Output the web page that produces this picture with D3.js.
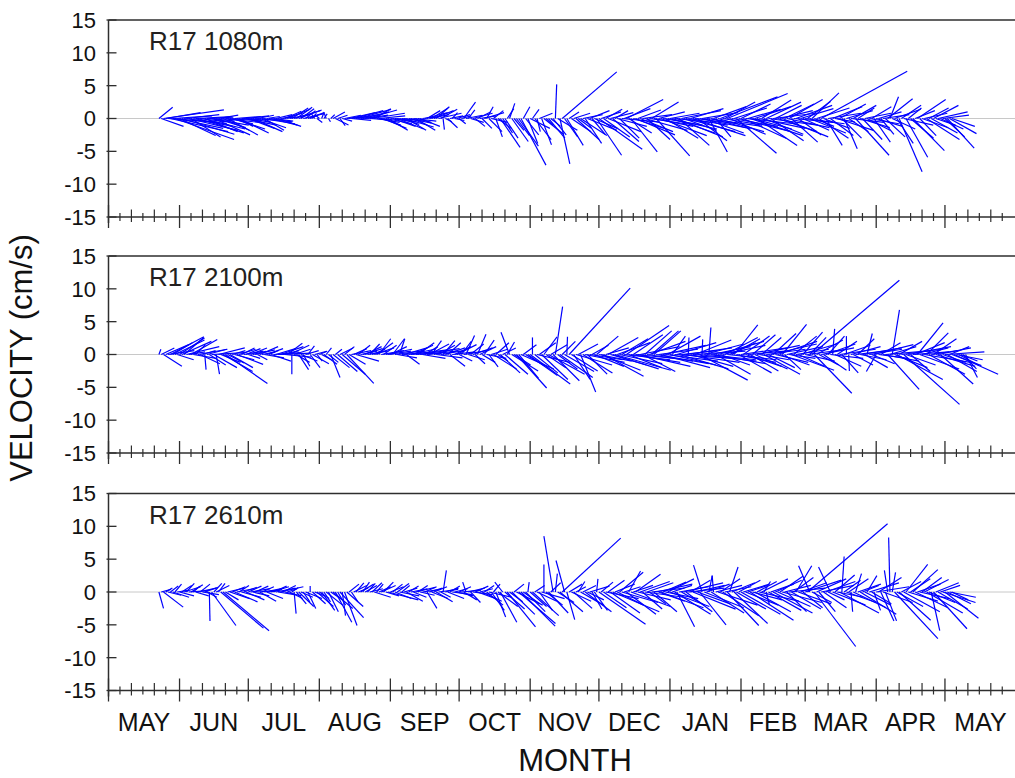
<!DOCTYPE html>
<html>
<head>
<meta charset="utf-8">
<script src="https://cdn.jsdelivr.net/npm/d3@7"></script>
<style>
	body { margin: 0; background: #ffffff; }
	#outer { width: 1015px; height: 778px; }
</style>
</head>
<body>
<div id="outer"></div>
<script>

////////// Data //////////
// daily current vectors (cm/s), first value = 23 May, one value per day
const startDay = Date.UTC(2010, 4, 23);
const panelNames = ['R17 1080m', 'R17 2100m', 'R17 2610m'];
const monthLabels = ['MAY', 'JUN', 'JUL', 'AUG', 'SEP', 'OCT', 'NOV', 'DEC', 'JAN', 'FEB', 'MAR', 'APR', 'MAY'];
const yTickValues = [-15, -10, -5, 0, 5, 10, 15];

const u1080 = [
	2.1,3.4,9.2,5.3,7.5,8.8,6.0,9.0,7.0,5.5, 8.0,6.5,5.0,7.5,4.5,6.0,5.5,7.0,4.0,6.5,
	5.0,4.0,6.0,3.5,5.5,4.5,3.0,6.0,4.0,5.0, 4.6,3.5,5.0,4.0,2.5,4.5,3.0,5.0,3.5,4.0,
	3.0,4.5,3.5,2.5,4.0,5.0,3.0,2.0,3.5,4.0, 3.0,2.5,3.5,2.0,3.0,2.5,3.5,3.0,2.5,4.0,
	2.4,3.5,2.0,3.0,1.5,2.5,1.2,0.6,-0.5,0.8, -0.7,0.4,0.5,-0.3,0.3,0.6,1.8,2.0,1.5,0.8,
	1.5,2.5,3.0,4.0,3.0,4.5,3.5,5.0,2.5,4.0, 3.5,4.5,3.0,5.0,2.5,3.5,4.0,3.0,3.5,4.0,
	3.0,4.0,3.5,2.5,4.0,3.0,3.5,4.5,3.0,3.5, 2.5,3.5,3.0,2.0,3.0,2.5,3.5,2.0,3.0,2.5,
	3.0,2.0,3.5,2.5,0.2,1.0,1.5,2.0,0.8,1.5, 2.0,1.0,1.5,1.8,2.5,1.0,2.0,3.0,1.5,2.0,
	2.5,1.5,3.0,1.0,2.0,2.5,1.5,1.0,2.0,3.0, 1.5,2.0,1.0,0.8,2.5,1.5,2.0,3.0,3.8,1.0,
	2.0,1.5,3.0,1.0,2.5,0.5,2.0,1.5,3.0,1.0, 2.5,1.5,2.0,0.2,3.0,1.5,8.3,2.0,2.5,1.5,
	3.0,2.5,3.5,2.0,4.0,3.0,2.5,4.5,3.0,2.0, 3.5,3.8,6.6,3.0,4.0,2.5,5.0,3.5,4.0,2.0,
	4.5,3.0,5.5,4.0,5.6,3.5,4.0,5.0,6.0,3.5, 5.0,4.5,6.5,3.5,5.5,4.1,6.0,5.1,4.0,7.0,
	6.0,5.0,7.5,4.5,6.5,5.5,7.0,4.6,6.0,5.0, 7.5,6.0,5.0,8.0,6.5,4.5,7.0,5.5,6.0,8.5,
	2.8,6.0,5.0,2.3,7.0,8.7,6.0,4.6,9.2,5.5, 7.0,5.0,6.1,8.0,4.5,6.5,7.5,5.0,8.0,6.0,
	5.5,6.1,7.0,4.5,6.0,5.3,7.5,5.0,6.5,4.0, 6.0,5.0,7.0,4.5,6.5,5.1,4.0,6.0,5.5,3.5,
	5.0,4.0,6.0,3.5,5.5,4.1,3.0,5.0,4.5,13.1, 4.0,2.5,5.0,3.5,4.5,3.0,5.5,4.0,3.0,2.0,
	4.0,3.0,5.0,3.5,5.1,2.5,4.5,3.0,4.0,3.5, 4.5,3.0,2.5,4.0,3.5,2.0,4.0,3.0,3.8,1.3,
	3.5,4.0,2.5,3.5,3.0,4.5,3.3,2.0,3.5,4.8, 3.0,4.3,2.5,4.0,3.5,5.0,3.0,4.0,3.8,3.0,
	4.5,3.5,4.0,3.0,4.1,4.1,3.5
];
const v1080 = [
	1.7,-1.2,1.3,0.9,-0.6,-2.0,0.4,-3.2,-1.5,-2.6, -2.4,-0.8,0.6,-1.8,-2.8,-1.2,0.3,-2.2,-0.5,-1.6,
	-2.0,0.2,-1.0,-0.4,-2.5,-1.4,0.5,-0.6,-1.8,-0.3, -2.5,-0.8,-1.6,0.3,-1.2,-2.2,-0.2,-1.0,0.4,-1.5,
	-0.6,-2.0,-0.3,0.5,-1.4,-0.8,-1.8,0.3,-0.5,-1.0, -0.4,0.6,-1.2,0.2,0.8,1.1,1.4,0.6,1.6,1.2,
	1.7,1.3,1.5,0.7,1.2,0.9,0.5,0.8,0.7,-0.6, 0.6,1.0,0.7,0.8,-0.5,0.6,1.0,-1.0,0.5,-1.1,
	-0.4,0.5,0.3,0.9,-0.3,1.2,0.6,1.4,0.2,1.0, 0.5,1.3,-0.2,0.8,1.5,-0.6,0.4,-1.0,-1.5,-0.8,
	-1.8,-0.5,-1.2,-0.3,-1.6,-0.9,-0.4,-1.3,-1.8,-0.7, -1.0,-0.4,-1.8,-0.6,-1.2,0.3,0.9,1.2,0.6,1.6,
	1.2,1.8,0.8,1.4,-1.7,-0.5,-1.4,0.4,0.9,-0.3, 0.6,-0.8,0.4,2.5,0.5,1.3,-0.6,0.8,-1.2,1.0,
	0.4,-1.5,0.9,1.8,-2.0,-0.6,1.2,-2.8,-1.5,-4.4, -2.2,-3.0,1.5,2.3,-3.5,-1.8,-2.6,-4.2,-7.1,1.8,
	-2.5,-3.8,-1.5,1.4,-3.2,-2.0,0.8,-4.0,-2.4,-1.0, -3.0,-1.2,-2.5,5.2,-1.8,-6.9,7.1,-2.8,-4.1,1.0,
	-2.0,0.8,-3.2,-1.5,-2.6,0.6,-3.8,-1.8,1.2,-2.4, -1.5,-5.6,-4.7,1.0,-2.8,1.4,-2.0,0.9,-3.5,1.2,
	-1.2,-3.0,-0.5,1.5,2.9,-2.2,-5.1,-1.6,-2.5,1.3, -2.0,0.6,-1.8,-3.2,-0.8,2.5,-1.2,-5.7,1.0,-2.6,
	-1.0,-3.0,-1.6,0.8,-2.2,-0.6,-2.8,-4.1,1.2,-1.8, -2.0,-1.0,1.5,-2.6,-0.8,-3.4,-1.4,0.9,-2.2,-1.2,
	-5.1,-1.6,1.8,-2.8,-2.0,3.3,-1.0,2.5,3.8,-2.4, -1.2,1.6,-5.3,-2.0,2.2,-3.0,-0.8,1.4,-2.6,-1.6,
	1.8,-4.1,-1.5,2.8,-2.4,2.5,-1.0,-3.4,0.8,2.0, -2.0,1.2,-2.8,2.2,-1.4,2.9,-3.6,-0.6,2.0,-2.5,
	1.5,-1.8,-0.8,2.6,-2.2,3.9,-1.2,1.6,-3.0,7.2, -1.5,-4.1,0.8,-2.6,1.8,-0.5,-1.8,2.2,-3.0,-4.6,
	1.2,-2.0,-0.6,2.0,-5.6,1.6,-1.4,-3.2,0.8,-1.8, -0.8,1.8,-3.6,-1.2,1.0,-2.4,0.6,-2.8,3.0,3.3,
	-1.6,1.4,-3.8,-8.1,2.0,-1.0,-5.9,1.6,-3.0,-4.9, 1.2,2.9,-2.6,-1.4,0.8,-3.2,1.6,-2.2,2.0,-1.0,
	1.0,-1.6,0.5,-2.8,-4.5,-2.3,-1.2
];

const u2100 = [
	0.3,2.0,2.8,3.5,4.0,5.1,3.0,4.5,2.5,3.8, 4.5,3.0,5.0,2.5,4.0,3.5,1.5,4.5,3.0,2.0,
	0.2,3.0,2.5,5.0,3.5,0.5,4.0,3.0,4.5,6.4, 2.5,3.5,2.0,3.0,4.0,2.5,2.0,3.0,2.2,1.8,
	2.5,2.0,3.0,1.5,2.8,2.0,3.0,2.5,1.5,3.0, 4.0,3.0,5.0,3.5,2.5,4.0,2.3,3.0,0.0,2.5,
	2.0,1.5,2.5,1.0,2.0,1.0,1.5,2.5,1.8,0.8, 1.2,1.5,2.0,0.8,1.5,1.4,2.5,1.0,3.0,2.0,
	3.5,1.5,4.1,2.5,3.0,2.0,3.5,1.8,2.5,3.0, 2.5,3.0,1.5,2.0,3.0,2.5,1.8,3.5,2.0,4.0,
	3.5,2.5,1.8,4.5,3.0,0.8,5.0,3.5,2.0,4.0, 5.5,3.0,4.0,2.5,6.0,3.5,2.0,4.5,3.0,1.5,
	3.0,4.0,2.5,3.5,1.8,3.0,2.0,2.3,3.5,2.5, 3.0,2.0,1.5,3.5,1.3,2.5,2.0,3.0,1.5,1.3,
	2.5,2.0,1.5,3.0,1.4,2.5,3.5,2.0,1.5,3.0, 2.0,3.5,1.1,-1.3,4.0,2.5,4.6,3.0,5.0,2.0,
	3.0,4.5,6.1,0.0,3.5,5.0,2.5,4.0,2.0,3.0, 5.5,2.5,4.0,1.1,3.0,5.0,2.0,4.5,0.1,9.3,
	4.0,2.5,5.5,3.0,2.3,4.5,6.0,3.0,5.0,2.5, 4.5,3.3,5.0,6.0,6.1,3.5,4.6,5.5,7.0,8.5,
	5.0,6.5,4.0,7.0,6.5,5.0,7.5,4.5,6.0,8.0, 6.0,5.0,4.1,7.0,5.5,4.1,4.1,8.0,6.0,7.5,
	6.5,8.0,5.0,7.0,2.0,9.0,6.0,7.5,5.5,8.5, 7.0,0.1,6.5,8.0,5.5,9.0,7.3,0.1,6.0,7.5,
	0.3,6.0,8.0,5.3,7.0,4.5,6.5,5.0,7.5,4.0, 4.3,3.6,6.0,5.0,7.0,4.0,5.5,6.5,4.3,3.5,
	5.0,6.5,4.5,3.0,5.5,6.0,4.0,7.0,3.5,5.0, 6.0,4.5,3.7,2.5,5.5,4.0,6.5,3.5,5.0,4.0,
	5.5,3.0,4.5,6.0,2.5,13.3,5.7,4.0,3.0,5.0, 3.5,4.5,2.5,5.0,0.3,4.0,3.0,5.5,2.5,4.0,
	0.0,0.1,4.5,3.0,5.0,2.5,4.0,6.0,3.5,0.8, 5.0,3.5,6.0,-1.5,4.5,3.0,5.5,7.0,4.8,4.0,
	1.1,5.0,7.0,3.5,6.0,8.5,4.5,6.5,3.0,5.5, 4.5,3.9,6.0,4.0,7.0,3.3,5.5,4.0,3.5,6.0,
	5.0,5.0,3.5,6.0,4.5,3.0,4.5,6.7,4.0,3.0, 2.5,2.0,1.8
];
const v2100 = [
	0.8,1.0,-1.8,1.5,0.6,2.7,1.8,2.2,-0.8,2.5, 2.0,2.6,1.2,0.4,2.3,-0.6,1.5,0.8,-1.4,0.6,
	-2.3,0.8,-1.6,0.3,-2.0,-3.0,1.0,-1.2,-2.6,-4.4, -1.3,-2.0,0.6,-0.8,-1.5,0.8,1.0,0.5,0.9,-0.6,
	1.0,0.5,0.7,-0.8,1.2,0.4,-0.5,0.9,0.6,-1.0, 0.3,0.9,0.2,1.2,0.6,-0.4,1.7,1.4,-3.0,0.8,
	-1.2,-2.3,-1.0,-1.8,0.6,1.3,-2.0,-1.4,0.5,-1.0, 0.5,-0.8,-1.5,1.0,-1.2,-3.5,-2.0,0.8,-2.6,1.0,
	-3.0,1.2,-4.4,-1.5,0.6,0.9,-1.0,1.4,0.5,0.9, 1.2,0.5,1.6,0.8,1.0,1.8,2.4,0.6,1.4,0.8,
	0.5,1.2,2.4,0.6,-0.5,2.4,0.4,1.0,-1.5,0.8, 0.7,1.4,0.3,1.8,0.9,-0.6,1.2,0.5,1.6,2.1,
	0.8,-0.5,1.4,0.6,2.1,1.0,1.8,-1.8,0.4,1.2, 1.5,-1.0,2.0,0.6,2.9,-0.8,1.6,1.0,-1.4,3.1,
	1.2,-1.2,2.2,-0.6,-1.9,0.8,-2.2,1.8,-1.0,-2.8, 1.0,-3.0,1.9,3.4,-2.5,-1.6,-5.1,-3.6,-2.2,1.5,
	-1.8,-3.2,-4.5,2.6,-2.8,-1.2,1.8,-3.8,2.7,-2.0, -3.0,1.5,-4.0,7.3,-2.2,-3.5,2.0,-2.6,2.7,10.1,
	-2.5,-3.8,-1.6,1.6,-5.7,-2.8,-1.2,-3.0,-0.8,1.4, -1.8,2.8,-1.0,-2.4,-3.3,1.0,2.6,-1.6,-2.2,-2.4,
	1.8,-1.4,2.4,-0.8,4.4,-2.0,-1.2,3.0,-0.6,-1.8, 1.2,-2.6,3.6,-1.0,2.0,3.6,3.6,-1.4,0.8,-2.0,
	1.4,-1.0,2.8,-1.6,2.8,-0.6,1.8,-2.2,0.6,-1.2, 1.0,2.6,-1.8,0.5,2.2,-1.0,-3.9,2.3,1.6,-0.8,
	4.1,1.2,-1.4,-3.0,2.0,-1.6,1.4,2.6,-0.8,1.8, 2.4,4.5,-1.2,-2.8,1.0,2.8,-1.8,0.6,-2.5,3.0,
	-2.2,1.4,-0.8,2.6,-3.0,0.8,-2.0,1.6,3.2,-1.2, 2.0,-1.6,4.6,-2.3,1.2,-0.6,-2.4,2.8,0.8,-1.8,
	1.6,3.4,-1.0,0.8,2.6,11.3,-5.9,2.2,-1.6,1.0, -2.4,1.6,2.8,-0.6,3.9,-1.8,2.0,0.8,-2.8,1.4,
	2.8,-2.5,1.2,-1.6,0.6,2.4,-0.8,1.0,-2.0,3.2, 0.8,-1.4,1.5,-2.6,-0.6,1.8,-1.0,0.6,-5.3,1.2,
	6.8,-2.0,-3.8,2.0,0.8,-7.6,-1.6,1.2,-2.6,0.4, 1.8,4.8,-2.2,1.0,-1.2,3.3,-3.0,0.6,2.4,-1.8,
	1.0,-4.5,-1.2,0.4,-2.6,1.2,-1.7,-3.0,-0.8,-1.6, -1.0,-2.2,-3.5
];

const u2610 = [
	0.7,1.5,3.0,1.0,2.0,1.2,2.5,1.0,1.8,2.2, 1.5,2.5,1.2,3.0,1.8,1.0,2.0,2.8,1.5,2.5,
	2.0,1.5,0.1,3.7,1.2,2.0,1.0,6.5,7.0,2.0, 2.5,3.0,2.0,3.5,2.5,1.5,3.0,2.0,2.8,2.0,
	3.0,2.5,2.0,3.5,2.5,1.8,3.0,2.5,2.0,2.7, 2.0,3.0,2.5,3.5,2.0,2.5,1.5,2.0,1.0,0.3,
	1.5,2.3,1.8,1.0,2.5,1.2,0.0,2.0,1.5,2.5, 1.5,2.0,1.0,2.5,1.5,1.8,3.0,2.5,1.2,3.6,
	0.5,1.9,2.5,1.5,1.0,2.0,1.2,1.5,2.0,1.0, 1.8,1.2,2.0,1.5,2.5,1.0,1.8,2.2,1.5,2.0,
	4.6,2.0,1.5,2.5,1.8,3.0,1.2,2.0,2.5,1.5, 2.5,2.0,3.0,1.5,2.2,2.8,1.8,1.5,2.0,2.5,
	2.0,2.5,3.0,1.5,0.5,2.0,2.5,1.5,3.0,2.0, 2.5,1.8,3.0,2.0,-0.5,2.5,1.5,3.0,2.0,2.8,
	2.0,3.0,1.5,2.5,3.5,2.0,1.0,1.5,3.0,2.5, -1.2,3.0,4.3,2.0,3.5,1.5,4.0,5.6,5.2,2.5,
	3.0,0.2,2.5,4.0,1.5,3.0,2.0,3.5,0.0,2.5, 3.0,1.5,-1.4,0.3,2.5,3.5,8.9,-1.3,1.2,2.0,
	3.0,2.8,1.5,1.0,3.5,2.0,4.0,2.5,3.0,1.5, 2.0,0.2,7.1,1.8,3.5,5.0,2.5,4.5,7.1,3.0,
	4.0,3.6,5.5,2.5,4.5,1.8,6.0,3.0,3.8,5.0, 4.5,3.0,6.0,4.0,2.5,5.0,3.5,5.5,4.0,6.5,
	3.5,5.0,4.0,6.0,3.0,5.5,2.7,4.5,3.5,6.0, 4.0,5.5,3.0,6.5,4.5,5.0,4.0,-1.3,6.0,3.5,
	0.5,5.0,-0.2,4.0,6.0,3.0,5.5,4.0,4.8,1.3, 3.5,5.1,4.5,3.3,6.0,4.0,5.0,3.0,6.6,4.5,
	5.5,3.0,6.0,4.0,1.0,0.5,5.0,3.5,6.0,4.0, 5.0,3.5,6.0,4.0,3.0,5.5,4.5,3.0,2.4,5.0,
	4.0,3.0,5.5,12.2,-1.7,3.0,6.3,4.5,2.5,5.0, 3.5,4.5,2.5,-1.8,5.0,3.0,4.0,6.0,0.35,2.5,
	4.5,3.0,0.25,5.0,0.9,3.5,5.5,2.5,4.0,1.5, 4.5,3.0,1.0,5.0,3.5,2.0,4.5,1.7,-0.5,-0.2,
	0.5,6.6,4.0,4.8,3.0,5.5,3.3,4.5,3.0,3.8, 5.0,3.5,4.5,3.0,3.7,5.5,4.0,1.3,5.1,3.5,
	4.5,3.0,5.0,5.1,3.6,4.0,2.5
];
const v2610 = [
	-2.5,0.4,-2.3,0.6,-0.5,0.9,-0.8,1.2,0.3,-0.6, 1.0,0.8,1.3,0.2,1.1,0.9,-0.6,0.6,1.2,-0.4,
	0.7,-0.8,-4.4,-5.1,1.3,1.0,1.3,-5.5,-5.9,-1.2, 0.6,-1.0,0.8,-1.5,0.5,1.0,-0.8,0.7,-1.2,0.9,
	0.5,-0.6,0.9,0.3,-1.4,0.8,0.6,-1.0,0.4,0.8, 0.9,0.6,-0.4,0.8,1.0,-0.6,0.5,-1.0,0.7,-3.3,
	-1.8,-2.2,-0.8,-1.5,-1.0,-2.5,0.9,-1.8,-0.6,-2.2, -1.0,-2.8,-1.5,-2.0,-3.0,-1.2,-2.5,-4.6,-2.0,-3.9,
	-3.6,-5.1,-2.2,1.2,-1.5,1.0,1.4,0.6,1.2,1.5, 1.0,1.3,0.5,1.4,-0.8,1.2,0.8,1.0,1.5,-0.6,
	-1.2,0.8,1.2,-1.0,1.3,-0.6,1.0,0.6,-1.4,0.9, 0.5,-0.8,0.7,1.0,-0.5,0.4,0.8,-2.5,0.6,-1.0,
	0.8,-1.5,0.4,-0.8,3.3,0.6,-1.0,0.9,-0.4,0.5, -0.6,0.8,0.3,-1.2,1.5,0.6,-1.6,-0.4,0.9,-1.0,
	0.5,-1.4,1.0,-2.0,-0.8,-2.8,1.2,-3.8,-2.2,-4.6, 1.5,-2.6,-5.3,-1.5,-3.4,1.2,-2.0,-4.8,-5.2,-1.8,
	-3.0,1.5,-2.2,-3.6,1.0,-1.4,-2.8,-1.0,4.2,-2.0, -3.2,1.4,8.5,2.8,-1.6,-3.0,8.2,4.8,-4.2,1.2,
	-1.4,-2.5,0.8,1.6,-2.0,1.0,-3.0,-1.2,0.9,-2.6, -2.8,2.0,-4.9,1.5,-2.4,-1.0,1.8,-3.2,-3.0,1.2,
	-2.0,3.0,-1.6,0.8,-3.4,3.2,-2.2,1.0,2.7,-1.2, 1.6,-2.6,-0.8,1.4,-1.8,0.6,-3.0,1.2,-1.4,-2.4,
	1.5,-1.0,2.0,-2.2,1.0,-3.4,-5.3,0.8,-2.0,1.4, -3.0,0.6,1.8,-2.6,1.0,-1.8,-5.0,4.1,-2.4,1.2,
	2.5,-3.2,2.5,1.0,-2.0,2.0,-3.6,0.8,-5.1,3.8, 1.4,-4.8,-2.6,1.8,-3.4,1.2,-2.0,1.0,-4.3,-1.2,
	-3.0,1.6,-1.4,2.0,1.6,-2.0,-2.8,1.2,-3.2,1.8, -2.2,2.4,-1.6,1.0,-3.0,0.6,-2.6,2.2,4.0,-1.8,
	1.4,-2.4,1.8,10.4,4.0,-1.6,-8.3,2.0,-3.0,1.0, -2.4,1.6,-1.2,3.8,-2.0,2.6,-0.8,-3.2,5.4,1.8,
	-1.6,2.0,-3.0,-2.4,2.8,1.2,-3.4,1.0,-2.0,2.5, 1.4,-1.8,-2.8,0.8,2.2,-4.4,-1.6,-4.4,3.3,8.3,
	3.0,-7.1,-2.2,-4.3,1.6,-3.0,4.2,-1.4,2.0,3.4, -2.4,1.2,-1.0,2.2,1.9,-3.2,-1.6,-5.9,-5.6,1.4,
	-2.6,1.0,-1.6,-4.0,-1.8,-0.8,-1.2
];

const seriesU = [u1080, u2100, u2610];
const seriesV = [v1080, v2100, v2610];


function drawStickChart () {

	////////// Layout //////////
	const width = 1015;
	const height = 778;
	const axisLeft = 108.5;
	const axisRight = 1016;
	const panelTops = [20, 256, 493.5];
	const panelHeight = 197;
	const stickColor = '#0000ff';
	const axisColor = '#2e2e2e';
	const textColor = '#111111';
	const tickFont = '22px "Liberation Sans", Arial, sans-serif';
	const monthFont = '25px "Liberation Sans", Arial, sans-serif';
	const nameFont = '26px "Liberation Sans", Arial, sans-serif';
	const titleFont = '31px "Liberation Sans", Arial, sans-serif';

	const svg = d3.select('#outer').append('svg')
		.attr('width', width)
		.attr('height', height)
		.style('display', 'block');

	// time scale shared by the three panels
	const xScale = d3.scaleUtc()
		.domain([new Date(Date.UTC(2010, 4, 1)), new Date(Date.UTC(2011, 5, 1))])
		.range([axisLeft, axisRight]);

	const monthStarts = d3.utcMonth.range(new Date(Date.UTC(2010, 4, 1)), new Date(Date.UTC(2011, 5, 2)));
	const minorTicks = [];
	monthStarts.forEach(m => {
		[5, 10, 15, 20, 25].forEach((d, k) => minorTicks.push({date: d3.utcDay.offset(m, d), tall: k % 2 === 1}));
	});


	////////// Panels //////////
	panelTops.forEach((top, p) => {
		const bottom = top + panelHeight;
		const yScale = d3.scaleLinear().domain([-15, 15]).range([bottom, top]);
		const zeroY = yScale(0);
		const unitPx = yScale(0) - yScale(1);
		const g = svg.append('g').attr('class', 'panel' + p);

		// zero line
		g.append('line')
			.attr('x1', axisLeft).attr('x2', width)
			.attr('y1', zeroY).attr('y2', zeroY)
			.attr('stroke', '#c8c8c8')
			.attr('stroke-width', 1);

		// sticks
		const us = seriesU[p];
		const vs = seriesV[p];
		g.append('g').attr('class', 'sticks')
			.selectAll('line')
			.data(us.map((u, i) => ({date: d3.utcDay.offset(new Date(startDay), i), u: u, v: vs[i]})))
			.join('line')
			.attr('x1', d => xScale(d.date))
			.attr('y1', zeroY)
			.attr('x2', d => xScale(d.date) + d.u * unitPx)
			.attr('y2', d => yScale(d.v))
			.attr('stroke', stickColor)
			.attr('stroke-width', 1.2);

		// top border
		g.append('line')
			.attr('x1', axisLeft).attr('x2', width)
			.attr('y1', top).attr('y2', top)
			.attr('stroke', axisColor)
			.attr('stroke-width', 1.5);

		// y axis
		g.append('line')
			.attr('x1', axisLeft).attr('x2', axisLeft)
			.attr('y1', top).attr('y2', bottom + 6)
			.attr('stroke', axisColor)
			.attr('stroke-width', 1.5);
		g.selectAll('.ytick')
			.data(yTickValues)
			.join('line')
			.attr('class', 'ytick')
			.attr('x1', axisLeft - 2).attr('x2', axisLeft + 8)
			.attr('y1', d => yScale(d)).attr('y2', d => yScale(d))
			.attr('stroke', axisColor)
			.attr('stroke-width', 1.3);
		g.selectAll('.ylabel')
			.data(yTickValues)
			.join('text')
			.attr('class', 'ylabel')
			.attr('x', 96)
			.attr('y', d => yScale(d))
			.attr('dy', '0.36em')
			.attr('text-anchor', 'end')
			.style('font', tickFont)
			.attr('fill', textColor)
			.text(d => d);

		// x axis
		g.append('line')
			.attr('x1', axisLeft).attr('x2', width)
			.attr('y1', bottom).attr('y2', bottom)
			.attr('stroke', axisColor)
			.attr('stroke-width', 1.6);
		g.selectAll('.majortick')
			.data(monthStarts)
			.join('line')
			.attr('class', 'majortick')
			.attr('x1', d => xScale(d)).attr('x2', d => xScale(d))
			.attr('y1', bottom - 12).attr('y2', bottom + 11)
			.attr('stroke', axisColor)
			.attr('stroke-width', 1.3);
		g.selectAll('.minortick')
			.data(minorTicks)
			.join('line')
			.attr('class', 'minortick')
			.attr('x1', d => xScale(d.date)).attr('x2', d => xScale(d.date))
			.attr('y1', d => bottom - (d.tall ? 7.5 : 4))
			.attr('y2', d => bottom + (d.tall ? 5 : 4))
			.attr('stroke', axisColor)
			.attr('stroke-width', 1.2);

		// panel name
		g.append('text')
			.attr('x', 149)
			.attr('y', top + 30)
			.style('font', nameFont)
			.attr('fill', '#231f20')
			.text(panelNames[p]);

		// month labels on the bottom panel only
		if (p === panelTops.length - 1) {
			g.selectAll('.month')
				.data(monthLabels)
				.join('text')
				.attr('class', 'month')
				.attr('x', (d, i) => (xScale(monthStarts[i]) + xScale(monthStarts[i + 1])) / 2)
				.attr('y', bottom + 40)
				.attr('text-anchor', 'middle')
				.style('font', monthFont)
				.attr('fill', textColor)
				.text(d => d);
		}
	});


	////////// Axis titles //////////
	svg.append('text')
		.attr('transform', 'translate(32, 358) rotate(-90)')
		.attr('text-anchor', 'middle')
		.style('font', titleFont)
		.attr('fill', textColor)
		.text('VELOCITY (cm/s)');

	svg.append('text')
		.attr('x', 575)
		.attr('y', 771)
		.attr('text-anchor', 'middle')
		.style('font', titleFont)
		.attr('fill', textColor)
		.text('MONTH');
}

drawStickChart();
</script>
</body>
</html>
